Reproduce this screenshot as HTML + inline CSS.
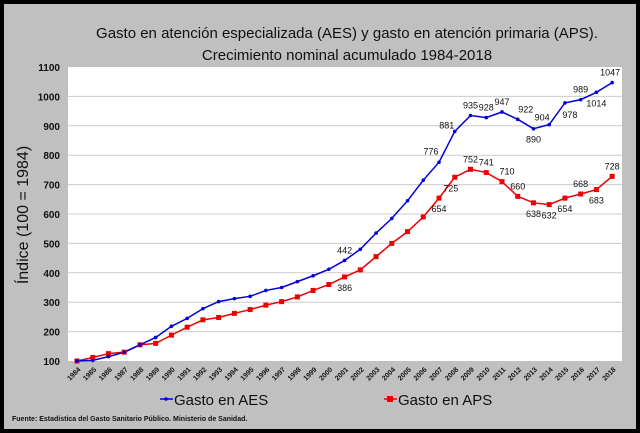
<!DOCTYPE html>
<html><head><meta charset="utf-8"><style>
body{margin:0;background:#000;}
svg{display:block;font-family:"Liberation Sans",sans-serif;}
</style></head><body>
<svg id="s" width="640" height="433" xmlns="http://www.w3.org/2000/svg">
<rect x="0" y="0" width="640" height="433" fill="#000"/>
<rect x="4" y="4" width="632" height="425" fill="#c0c0c0"/>
<text x="347" y="38" font-size="15" text-anchor="middle" fill="#111">Gasto en atención especializada (AES) y gasto en atención primaria (APS).</text>
<text x="347" y="60" font-size="15" text-anchor="middle" fill="#111">Crecimiento nominal acumulado 1984-2018</text>
<rect x="68" y="67" width="554" height="294" fill="#fff"/>
<g id="g"></g>
<text transform="translate(28,215) rotate(-90)" font-size="16" text-anchor="middle" fill="#111">Índice (100 = 1984)</text>
<line x1="160" y1="399" x2="173" y2="399" stroke="#0000dd" stroke-width="1.5"/>
<circle cx="166" cy="399" r="1.8" fill="#0000dd"/>
<text x="174" y="405" font-size="15" fill="#111">Gasto en AES</text>
<line x1="384" y1="399" x2="397" y2="399" stroke="#ee0000" stroke-width="1.5"/>
<rect x="387" y="396" width="6" height="6" fill="#ee0000"/>
<text x="398" y="405" font-size="15" fill="#111">Gasto en APS</text>
<text x="12" y="421" font-size="7" font-weight="bold" fill="#111">Fuente: Estadística del Gasto Sanitario Público. Ministerio de Sanidad.</text>
</svg>
<script>
var aes=[100,102,115,130,155,180,218,245,278,302,312,320,340,350,370,390,412,442,480,535,585,645,715,776,881,935,928,947,922,890,904,978,989,1014,1047];
var aps=[100,112,125,130,155,160,188,215,240,248,262,275,290,302,318,340,360,386,410,455,500,540,590,654,725,752,741,710,660,638,632,654,668,683,728];
var g=document.getElementById('g'),h='';
function X(i){return 77+i*15.74;}function Y(v){return 361-(v-100)*0.294;}
for(var v=100;v<=1100;v+=100){var y=Y(v);if(v>100&&v<1100)h+='<line x1="68" x2="622" y1="'+y+'" y2="'+y+'" stroke="#ccc"/>';
h+='<text x="60" y="'+(y+4)+'" font-size="10" font-weight="bold" text-anchor="end" fill="#111">'+v+'</text>';}
for(var i=0;i<35;i++){h+='<text transform="translate('+(X(i)+4)+',370) rotate(-45)" font-size="7" font-weight="bold" text-anchor="end" fill="#111">'+(1984+i)+'</text>';}
function path(d,c){var p='';for(var i=0;i<d.length;i++)p+=(i?'L':'M')+X(i)+' '+Y(d[i]);return '<path d="'+p+'" fill="none" stroke="'+c+'" stroke-width="1.5"/>';}
h+=path(aps,'#ee0000');h+=path(aes,'#0000dd');
for(var i=0;i<35;i++){h+='<rect x="'+(X(i)-2.5)+'" y="'+(Y(aps[i])-2.5)+'" width="5" height="5" fill="#ee0000"/>';
h+='<circle cx="'+X(i)+'" cy="'+Y(aes[i])+'" r="1.8" fill="#0000dd"/>';}
var la={17:[0,-7],23:[-8,-8],24:[-8,-3],25:[0,-7],26:[0,-7],27:[0,-7],28:[8,-7],29:[0,14],30:[-7,-4],31:[5,15],32:[0,-7],33:[0,14],34:[-2,-7]};
var lp={17:[0,14],23:[0,14],24:[-4,14],25:[0,-7],26:[0,-7],27:[5,-7],28:[0,-7],29:[0,14],30:[0,14],31:[0,14],32:[0,-7],33:[0,14],34:[0,-7]};
for(var k in la){h+='<text x="'+(X(+k)+la[k][0])+'" y="'+(Y(aes[k])+la[k][1])+'" font-size="9" text-anchor="middle" fill="#111">'+aes[k]+'</text>';}
for(var k in lp){h+='<text x="'+(X(+k)+lp[k][0])+'" y="'+(Y(aps[k])+lp[k][1])+'" font-size="9" text-anchor="middle" fill="#111">'+aps[k]+'</text>';}
g.innerHTML=h;
</script>
</body></html>
